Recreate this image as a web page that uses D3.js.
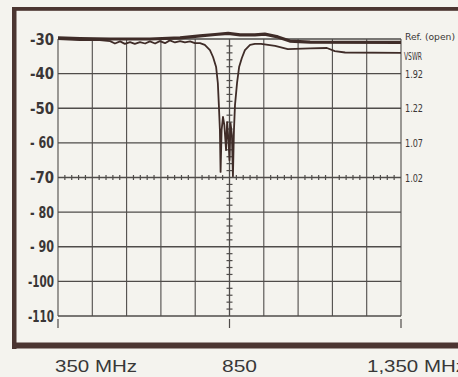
<!DOCTYPE html>
<html><head><meta charset="utf-8">
<script src="https://cdn.jsdelivr.net/npm/d3@7"></script>
<style>
html,body{margin:0;padding:0;background:#f4f3ee;}
svg{display:block;}
</style></head>
<body>
<svg id="c" width="458" height="377"></svg>
<script>
// ---- data ----
const dbTicks = [-30,-40,-50,-60,-70,-80,-90,-100,-110];
const dbLabels = ["-30","-40","-50","- 60","-70","- 80","- 90","-100","-110"];
const freqTicks = [350,450,550,650,750,850,950,1050,1150,1250,1350];
const freqLabels = [{f:350,t:"350 MHz"},{f:850,t:"850"},{f:1350,t:"1,350 MHz"}];
const vswrLabels = [{db:-40,t:"1.92"},{db:-50,t:"1.22"},{db:-60,t:"1.07"},{db:-70,t:"1.02"}];

const refFreq = [350,414,502,618,706,764,808,846,881,924,953,991,1026,1085,1350];
const refDb   = [-29.7,-29.9,-30.0,-30.0,-29.7,-29.1,-28.7,-28.4,-28.8,-28.8,-28.6,-29.4,-30.6,-30.9,-31.0];

const vswrFreq = [350,414,472,502,516,531,545,560,574,589,604,618,633,647,662,676,691,706,720,735,749,764,778,793,802,811,816,819,822,824,827,831,835,840,843,847,850,853,857,860,863,866,872,878,886,895,910,924,942,983,1020,1085,1134,1157,1187,1350];
const vswrDb   = [-30.0,-30.3,-30.3,-30.6,-31.3,-30.7,-31.4,-30.9,-31.4,-30.9,-31.3,-30.7,-31.3,-30.6,-31.2,-30.4,-31.0,-30.6,-31.0,-30.7,-31.2,-31.2,-31.7,-33.2,-35.2,-38.1,-42.7,-49.1,-56.3,-68.4,-56.3,-52.5,-54.9,-62.1,-54.0,-59.2,-65.0,-54.3,-57.7,-69.6,-56.3,-49.1,-42.7,-38.1,-35.5,-33.2,-31.7,-31.4,-31.4,-32.0,-32.9,-32.7,-32.6,-33.5,-33.9,-34.0];

// ---- drawing ----
const svg = d3.select("#c");
const x = d3.scaleLinear().domain([350,1350]).range([58,401]);
const y = d3.scaleLinear().domain([-30,-110]).range([39,316]);
const ink = "#3f2c28", grid = "#4f4c4a", frame = "#4b3531";

// frame
svg.append("rect").attr("x",12).attr("y",7).attr("width",4.5).attr("height",342).attr("fill",frame);
svg.append("rect").attr("x",12).attr("y",7).attr("width",450).attr("height",3.8).attr("fill",frame);
svg.append("rect").attr("x",12).attr("y",342.5).attr("width",450).attr("height",6).attr("fill",frame);

// grid
const g = svg.append("g");
g.selectAll(".v").data(freqTicks).join("line")
  .attr("x1",d=>x(d)).attr("x2",d=>x(d)).attr("y1",y(-30)).attr("y2",y(-110))
  .attr("stroke",grid).attr("stroke-width",d=>d===850?1.3:1.1);
g.selectAll(".h").data(dbTicks).join("line")
  .attr("x1",x(350)).attr("x2",x(1350)).attr("y1",d=>y(d)).attr("y2",d=>y(d))
  .attr("stroke",grid).attr("stroke-width",1.4);

// minor ticks on center line (every 2 dB)
const minorDb = d3.range(-30,-110.01,-2).filter(d=>d%10!==0);
g.selectAll(".mt").data(minorDb).join("line")
  .attr("x1",x(850)-3).attr("x2",x(850)+3).attr("y1",d=>y(d)).attr("y2",d=>y(d))
  .attr("stroke",grid).attr("stroke-width",1.2);
// minor ticks on -70 line (every 20 MHz)
const minorF = d3.range(350,1350.1,20).filter(d=>(d-350)%100!==0);
g.selectAll(".mf").data(minorF).join("line")
  .attr("x1",d=>x(d)).attr("x2",d=>x(d)).attr("y1",y(-70)-2.5).attr("y2",y(-70)+2.5)
  .attr("stroke",grid).attr("stroke-width",1.2);
// bottom ticks
g.selectAll(".bt").data(freqLabels).join("line")
  .attr("x1",d=>x(d.f)).attr("x2",d=>x(d.f)).attr("y1",y(-110)+3).attr("y2",y(-110)+12)
  .attr("stroke",grid).attr("stroke-width",1.2);

// traces
const line = d3.line().x(d=>x(d[0])).y(d=>y(d[1]));
svg.append("path").attr("d",line(refFreq.map((f,i)=>[f,refDb[i]])))
  .attr("fill","none").attr("stroke",ink).attr("stroke-width",3.2).attr("stroke-linejoin","round");
svg.append("path").attr("d",line(vswrFreq.map((f,i)=>[f,vswrDb[i]])))
  .attr("fill","none").attr("stroke",ink).attr("stroke-width",1.8).attr("stroke-linejoin","round");

// left labels
svg.selectAll(".yl").data(dbTicks).join("text")
  .attr("x",54).attr("y",d=>y(d)+5.5)
  .attr("text-anchor","end")
  .attr("font-family","'Liberation Sans Narrow','DejaVu Sans Condensed','Liberation Sans',sans-serif")
  .attr("font-size",15).attr("font-weight","bold").attr("fill","#3a3636")
  .attr("textLength",(d,i)=>dbLabels[i].replace(/ /g,"").length>3?26:24)
  .attr("lengthAdjust","spacingAndGlyphs")
  .text((d,i)=>dbLabels[i]);

// right labels
const rf = "'Liberation Sans Narrow','DejaVu Sans Condensed','Liberation Sans',sans-serif";
svg.append("text").attr("x",405).attr("y",40).attr("font-family",rf).attr("font-size",9.5)
  .attr("fill","#3a3636").attr("textLength",50).attr("lengthAdjust","spacingAndGlyphs").text("Ref. (open)");
svg.append("text").attr("x",404).attr("y",60).attr("font-family",rf).attr("font-size",10)
  .attr("fill","#3a3636").attr("textLength",18).attr("lengthAdjust","spacingAndGlyphs").text("VSWR");
svg.selectAll(".vl").data(vswrLabels).join("text")
  .attr("x",405).attr("y",d=>y(d.db)+4)
  .attr("font-family",rf).attr("font-size",11).attr("fill","#3a3636")
  .attr("textLength",18).attr("lengthAdjust","spacingAndGlyphs")
  .text(d=>d.t);

// bottom labels
const bl = [{t:"350 MHz",x0:55,w:82},{t:"850",x0:222,w:35},{t:"1,350 MHz",x0:367,w:99}];
svg.selectAll(".xl").data(freqLabels).join("text")
  .attr("x",(d,i)=>bl[i].x0).attr("y",372)
  .attr("font-family","'Liberation Sans',Arial,sans-serif").attr("font-size",16.5)
  .attr("fill","#383838")
  .attr("textLength",(d,i)=>bl[i].w).attr("lengthAdjust","spacingAndGlyphs")
  .text(d=>d.t);
</script>
</body></html>
